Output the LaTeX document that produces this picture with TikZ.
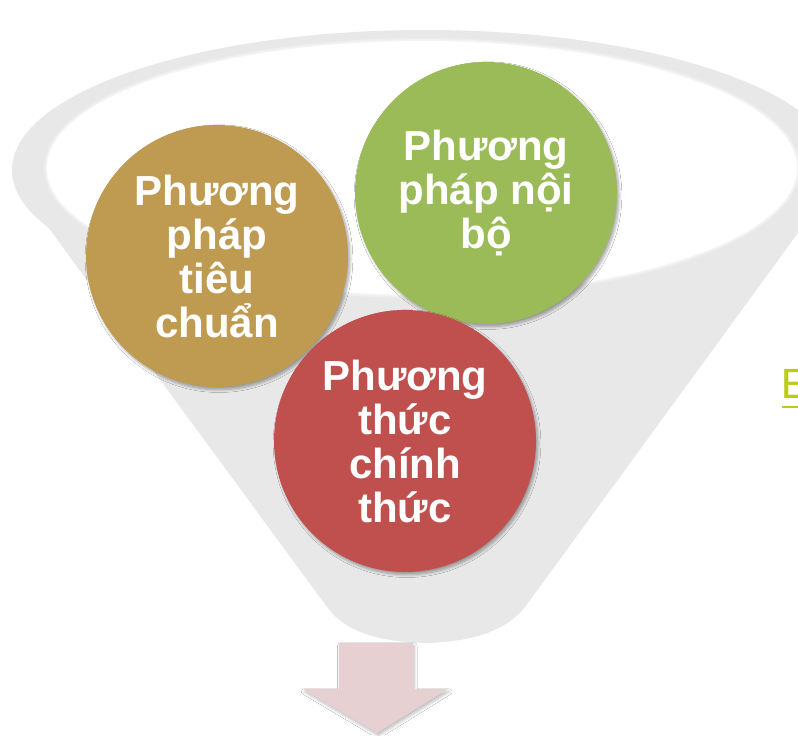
\documentclass[tikz,border=0pt]{standalone}
\usepackage{fontspec}
\setmainfont{Liberation Sans}
\newfontfamily\efont{Carlito}
\usetikzlibrary{shadows.blur}
\definecolor{funnelgrey}{HTML}{E8E8E8}
\definecolor{goldc}{HTML}{BF9B52}
\definecolor{greenc}{HTML}{9BBB59}
\definecolor{redc}{HTML}{C0504D}
\definecolor{arrowpink}{HTML}{E6D0D2}
\definecolor{elime}{HTML}{BBCC14}
\begin{document}
\begin{tikzpicture}[x=0.75pt,y=-0.75pt,
  funnel/.style={fill=funnelgrey},
  bubble/.style={circle, minimum size=196.5pt, inner sep=0pt, text=white, align=center,
    font=\fontsize{31.5pt}{33pt}\selectfont\bfseries,
    blur shadow={shadow xshift=1.5pt, shadow yshift=-2pt, shadow opacity=35, shadow blur steps=6}},
  downarrow/.style={fill=arrowpink,
    blur shadow={shadow xshift=1pt, shadow yshift=-2pt, shadow opacity=25, shadow blur steps=5}},
]
\useasboundingbox (0,0) rectangle (798,735);
\clip (0,0) rectangle (798,735);
\fill[white] (0,0) rectangle (798,735);

% funnel body
\fill[funnel] (425,170) ellipse [x radius=309.75pt, y radius=105pt];
\fill[funnel] (12,178) -- (327,607)
  .. controls (345,632) and (380,642) .. (425,643)
  .. controls (470,642) and (505,632) .. (525,607)
  -- (838,178) -- cycle;
% inner opening with soft edge
\fill[white] (422,168) ellipse [x radius=281.25pt, y radius=95.25pt];
\draw[white, opacity=0.25, line width=4.5pt] (422,168) ellipse [x radius=281.25pt, y radius=95.25pt];
\draw[white, opacity=0.35, line width=2.5pt] (422,168) ellipse [x radius=281.25pt, y radius=95.25pt];

% arrow
\fill[downarrow] (339,643) -- (413,643) -- (413,689) -- (448,689) -- (377,733)
  -- (303,689) -- (339,689) -- cycle;

% circles
\node[bubble, fill=goldc] (std) at (217,256) {Phương\\pháp\\tiêu\\chuẩn};
\node[bubble, fill=greenc] (internal) at (486,193) {Phương\\pháp nội\\bộ};
\node[bubble, fill=redc] (formal) at (405,441) {Phương\\thức\\chính\\thức};

% cut-off text at right edge (as in the reference)
\node[anchor=base west, inner sep=0pt, text=elime, font=\efont\fontsize{34pt}{40pt}\selectfont] (etext) at (781,398) {E};
\draw[elime, line width=1.5pt] (782,407) -- (800,407);
\end{tikzpicture}
\end{document}
